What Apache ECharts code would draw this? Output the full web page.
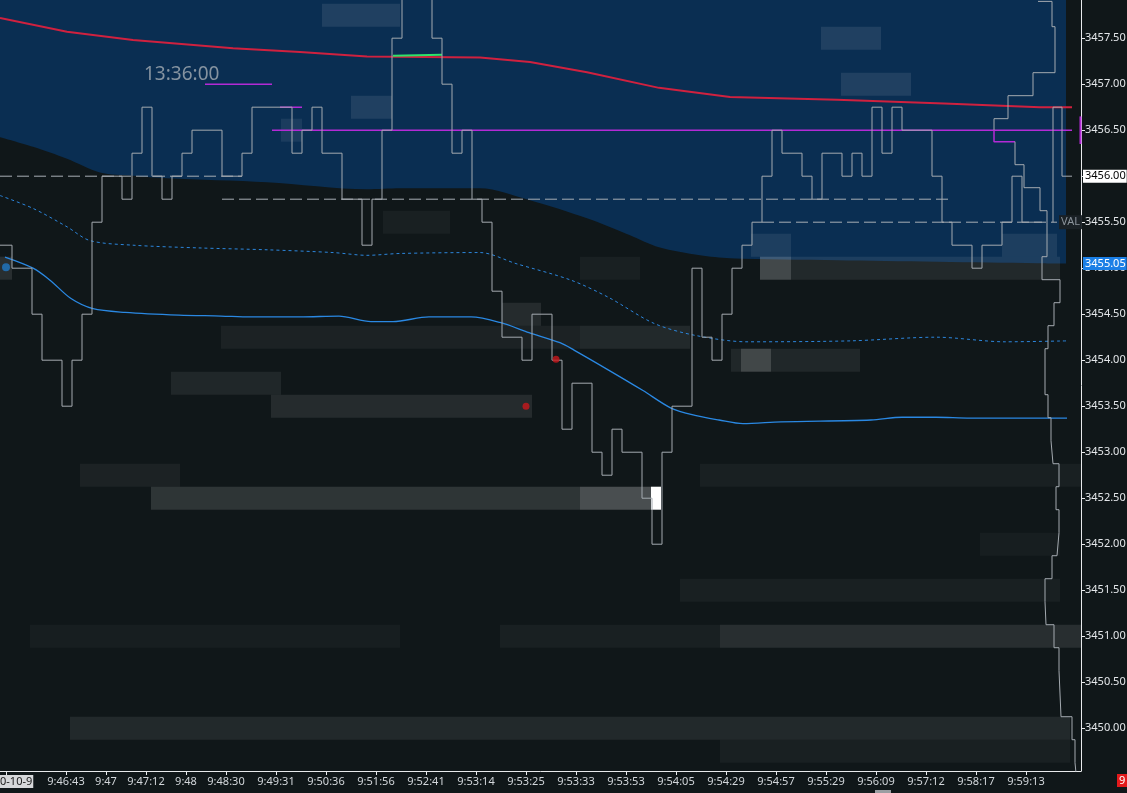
<!DOCTYPE html>
<html>
<head>
<meta charset="utf-8">
<script src="https://cdn.jsdelivr.net/npm/echarts@6/dist/echarts.min.js"></script>
<style>
html,body{margin:0;padding:0;background:#101719;}
#chart{width:1127px;height:793px;}
</style>
</head>
<body>
<div id="chart"></div>
<script>
// ---------- data ----------
const firstBar = -1;
const barPrices = [
  3455.25, 3455.25, 3455.0, 3455.0, 3454.5, 3454.0, 3454.0, 3453.5, 3454.0, 3454.5,
  3455.5, 3456.0, 3456.0, 3455.75, 3456.25, 3456.75, 3456.0, 3455.75, 3456.0, 3456.25,
  3456.5, 3456.5, 3456.5, 3456.0, 3456.0, 3456.25, 3456.75, 3456.75, 3456.75, 3456.75,
  3456.25, 3456.5, 3456.75, 3456.25, 3456.25, 3455.75, 3455.75, 3455.25, 3455.75, 3456.5,
  3457.5, 3458.25, 3458.25, 3458.25, 3457.5, 3457.0, 3456.25, 3456.5, 3455.75, 3455.5,
  3454.75, 3454.25, 3454.25, 3454.0, 3454.5, 3454.5, 3454.0, 3453.25, 3453.75, 3453.75,
  3453.0, 3452.75, 3453.25, 3453.0, 3453.0, 3452.5, 3452.0, 3453.0, 3453.5, 3453.5,
  3455.0, 3454.25, 3454.0, 3454.5, 3455.0, 3455.25, 3455.5, 3456.0, 3456.5, 3456.25,
  3456.25, 3456.0, 3455.75, 3456.25, 3456.25, 3456.0, 3456.25, 3456.0, 3456.75, 3456.25,
  3456.75, 3456.5, 3456.5, 3456.5, 3456.0, 3455.5, 3455.25, 3455.25, 3455.0, 3455.25,
  3455.25, 3455.5, 3456.0, 3455.5, 3455.5
];

const tailUp = [
  [99.2, 3456.5], [99.2, 3456.625], [100.6, 3456.625], [100.6, 3456.875], [103.1, 3456.875],
  [103.1, 3457.125], [105.3, 3457.125], [105.3, 3457.625], [105.0, 3457.625], [105.0, 3457.9],
  [103.6, 3457.9]
];
const tailDown = [
  [101.3, 3456.375], [101.3, 3456.125], [102.2, 3456.125], [102.2, 3455.875], [103.8, 3455.875],
  [103.8, 3455.625], [104.5, 3455.625], [104.5, 3455.125], [104.0, 3455.125], [104.0, 3454.875],
  [105.8, 3454.875], [105.8, 3454.625], [105.2, 3454.625], [105.2, 3454.375], [104.6, 3454.375],
  [104.6, 3454.125], [104.3, 3454.125], [104.3, 3453.625], [104.6, 3453.625], [104.6, 3453.375],
  [104.9, 3453.375], [104.9, 3453.125], [105.1, 3453.125], [105.1, 3452.875], [105.7, 3452.875],
  [105.7, 3452.625], [105.4, 3452.625], [105.4, 3452.375], [105.7, 3452.375], [105.7, 3452.125],
  [105.5, 3452.125], [105.5, 3451.875], [105.0, 3451.875], [105.0, 3451.625], [104.3, 3451.625],
  [104.3, 3451.375], [104.4, 3451.375], [104.4, 3451.125], [105.2, 3451.125], [105.2, 3450.875],
  [105.7, 3450.875], [105.7, 3450.625], [105.9, 3450.625], [105.9, 3450.125], [107.0, 3450.125],
  [107.0, 3449.875], [107.3, 3449.875], [107.3, 3449.625], [107.5, 3449.625], [107.5, 3449.4]
];
const lastPriceTrace = [[105.1, 3455.5], [105.1, 3456.75], [106.0, 3456.75], [106.0, 3456.0], [107.0, 3456.0]];

const valueAreaEdge = [
  [-0.2, 3456.424], [3.1, 3456.320], [6.5, 3456.190], [9.8, 3456.040], [13.1, 3456.005], [16.5, 3455.978],
  [26.5, 3455.935], [36.5, 3455.859], [39.8, 3455.870], [47.8, 3455.870], [52.8, 3455.739],
  [58.5, 3455.543], [62.8, 3455.359], [65.7, 3455.228], [69.8, 3455.141], [72.8, 3455.109],
  [83.5, 3455.087], [103.5, 3455.054], [106.4, 3455.050]
];

const redLine = [
  [-0.2, 3457.72], [6.5, 3457.57], [13.1, 3457.48], [23.1, 3457.39], [29.8, 3457.35],
  [36.5, 3457.30], [47.8, 3457.29], [52.8, 3457.24], [58.5, 3457.13], [65.7, 3456.96],
  [72.8, 3456.86], [83.5, 3456.83], [94.2, 3456.79], [103.8, 3456.75], [107.0, 3456.75]
];
const greenPiece = [[39.1, 3457.31], [44.0, 3457.32]];

const maSolid = [
  [0.3, 3455.12], [3.1, 3455.0], [4.8, 3454.87], [6.9, 3454.67], [9.1, 3454.56], [12.3, 3454.52],
  [17.7, 3454.49], [21.9, 3454.48], [24.8, 3454.47], [29.8, 3454.47], [33.7, 3454.48], [36.9, 3454.42],
  [39.1, 3454.42], [42.7, 3454.47], [46.9, 3454.47], [49.8, 3454.41], [52.7, 3454.30], [55.8, 3454.19],
  [57.2, 3454.11], [60.7, 3453.89], [64.1, 3453.67], [66.9, 3453.48], [69.3, 3453.40], [71.7, 3453.35],
  [74.1, 3453.31], [77.9, 3453.33], [86.9, 3453.35], [90.0, 3453.38], [93.4, 3453.38], [96.8, 3453.37],
  [106.5, 3453.37]
];
const maDashed = [
  [-0.2, 3455.79], [3.1, 3455.65], [6.5, 3455.45], [8.8, 3455.30], [13.1, 3455.25], [19.8, 3455.22],
  [26.5, 3455.20], [33.1, 3455.17], [36.5, 3455.14], [39.8, 3455.16], [47.8, 3455.17], [51.4, 3455.05],
  [56.9, 3454.87], [60.7, 3454.68], [65.2, 3454.40], [69.3, 3454.27], [74.5, 3454.20], [84.8, 3454.21],
  [93.4, 3454.25], [100.3, 3454.20], [106.5, 3454.21]
];

const magentaMain = [[27.0, 3456.5], [107.0, 3456.5]];
const magentaShortA = [[20.3, 3457.0], [27.0, 3457.0]];
const magentaShortB = [[27.8, 3456.75], [30.0, 3456.75]];
const magentaStep = [[99.2, 3456.5], [99.2, 3456.375], [101.3, 3456.375]];
const magentaAxisMark = [[107.85, 3456.35], [107.85, 3456.65]];

const dashedOpen = [[-0.2, 3456.0], [24.0, 3456.0]];
const dashedMid = [[22.0, 3455.75], [95.0, 3455.75]];
const dashedVAL = [[76.0, 3455.5], [105.5, 3455.5]];

const redDots = [[52.4, 3453.50], [55.4, 3454.01]];
const blueDots = [[0.4, 3455.01]];

// [fromIndex, toIndex, price, liquidity]
const heatBands = [
  [14.9, 57.8, 3452.5, 13], [57.8, 64.9, 3452.5, 24], [64.9, 65.9, 3452.5, 100],
  [26.9, 53.0, 3453.5, 9], [16.9, 27.9, 3453.75, 7],
  [21.9, 57.8, 3454.25, 5], [57.8, 68.8, 3454.25, 8],
  [72.9, 85.8, 3454.0, 7], [73.9, 76.9, 3454.0, 15],
  [7.8, 17.8, 3452.75, 5], [69.8, 107.9, 3452.75, 4],
  [67.8, 105.8, 3451.5, 4],
  [2.8, 39.8, 3451.0, 3], [49.8, 71.8, 3451.0, 4], [71.8, 107.9, 3451.0, 10],
  [6.8, 106.8, 3450.0, 8], [71.8, 106.8, 3449.75, 4], [97.8, 105.8, 3452.0, 3],
  [75.8, 105.8, 3455.0, 8], [75.8, 78.9, 3455.0, 15], [57.8, 63.8, 3455.0, 4],
  [50.0, 53.9, 3454.5, 9], [38.1, 44.8, 3455.5, 4],
  [32.0, 39.8, 3457.75, 9], [81.9, 87.9, 3457.5, 9], [83.9, 90.9, 3457.0, 9],
  [34.9, 39.0, 3456.75, 9], [27.9, 30.0, 3456.5, 7],
  [100.0, 105.5, 3455.25, 8], [74.9, 78.9, 3455.25, 8], [-0.2, 1.0, 3455.0, 10]
];

const priceTicks = [3450.0, 3450.5, 3451.0, 3451.5, 3452.0, 3452.5, 3453.0, 3453.5, 3454.0, 3454.5, 3455.0, 3455.5, 3456.0, 3456.5, 3457.0, 3457.5];
const lastPrice = 3456.0;
const vaLow = 3455.05;

const timeTickAt = [0.4, 6.4, 10.4, 14.4, 18.4, 22.4, 27.4, 32.4, 37.4, 42.4, 47.4, 52.4, 57.4, 62.4, 67.4, 72.4, 77.4, 82.4, 87.4, 92.4, 97.4, 102.4];
const timeLabels = ['0-10-9', '9:46:43', '9:47', '9:47:12', '9:48', '9:48:30', '9:49:31', '9:50:36', '9:51:56', '9:52:41', '9:53:14', '9:53:25', '9:53:33', '9:53:53', '9:54:05', '9:54:29', '9:54:57', '9:55:29', '9:56:09', '9:57:12', '9:58:17', '9:59:13'];

const tickHalf = 0.125;

// ---------- chart ----------
const chart = echarts.init(document.getElementById('chart'), null, {renderer: 'canvas'});

const stepData = barPrices.map((p, i) => [firstBar + i, p]);
stepData.push([firstBar + barPrices.length, barPrices[barPrices.length - 1]]);

function renderHeat(params, api) {
  const a = api.coord([api.value(0), api.value(2) + tickHalf]);
  const b = api.coord([api.value(1), api.value(2) - tickHalf]);
  const cs = params.coordSys;
  const shape = echarts.graphic.clipRectByRect(
    {x: a[0], y: a[1], width: b[0] - a[0], height: b[1] - a[1]},
    {x: cs.x, y: cs.y, width: cs.width, height: cs.height}
  );
  if (!shape) return null;
  return {type: 'rect', shape: shape, style: {fill: 'rgba(255,255,255,' + (api.value(3) / 100) + ')'}};
}

function plainLine(data, color, width, extra) {
  return Object.assign({
    type: 'line', data: data, symbol: 'none', silent: true, animation: false,
    lineStyle: {color: color, width: width}
  }, extra || {});
}

const FONT = "'Segoe UI', 'Noto Sans', sans-serif";

const option = {
  backgroundColor: '#101719',
  animation: false,
  textStyle: {fontFamily: FONT},
  grid: {left: 0, top: 0, right: 46, bottom: 22, containLabel: false, outerBoundsMode: 'none'},
  xAxis: {
    type: 'value', min: -0.2, max: 107.9,
    splitLine: {show: false},
    axisLine: {show: true, onZero: false, lineStyle: {color: '#e8eaec', width: 1}},
    axisTick: {show: true, length: 4, customValues: timeTickAt, lineStyle: {color: '#e8eaec'}},
    axisLabel: {
      show: true, margin: 5, fontSize: 11, color: '#d2d6da', fontFamily: FONT,
      hideOverlap: false,
      customValues: timeTickAt.slice(1),
      formatter: function (v) {
        const i = timeTickAt.findIndex(t => Math.abs(t - v) < 1e-6);
        return i > 0 ? timeLabels[i] : '';
      }
    }
  },
  yAxis: {
    type: 'value', position: 'right', min: 3449.535, max: 3457.915, scale: true,
    splitLine: {show: false},
    axisLine: {show: true, onZero: false, lineStyle: {color: '#e8eaec', width: 1}},
    axisTick: {show: true, length: 4, inside: false, customValues: priceTicks, lineStyle: {color: '#e8eaec'}},
    axisLabel: {
      show: true, margin: 2, fontSize: 11, color: '#e4e7ea', fontFamily: FONT,
      hideOverlap: false,
      customValues: priceTicks.concat([vaLow]),
      formatter: function (v) {
        if (Math.abs(v - lastPrice) < 1e-6) return '{cur|' + v.toFixed(2) + '}';
        if (Math.abs(v - vaLow) < 1e-6) return '{va|' + v.toFixed(2) + '}';
        return '{n|' + v.toFixed(2) + '}';
      },
      rich: {
        n: {color: '#e4e7ea', padding: [1, 1, 1, 2], fontSize: 11, fontFamily: FONT},
        cur: {backgroundColor: '#ffffff', color: '#000000', padding: [1, 1, 1, 2], fontSize: 11, fontFamily: FONT},
        va: {backgroundColor: '#1b7fe6', color: '#ffffff', padding: [1, 1, 1, 2], fontSize: 11, fontFamily: FONT}
      }
    }
  },
  graphic: [
    {type: 'text', left: 144, top: 65, z: 50, style: {text: '13:36:00', fill: '#8593a0', font: "19px 'Segoe UI', 'Noto Sans', sans-serif"}},
    {type: 'text', left: 0, top: 775, z: 50, style: {text: timeLabels[0], fill: '#1a1a1a', font: "11px 'Segoe UI', 'Noto Sans', sans-serif", backgroundColor: '#d6d8da', padding: [1, 1, 1, 0]}},
    {type: 'text', left: 1117, top: 774, z: 50, style: {text: '9', fill: '#ffffff', font: "11px 'Segoe UI', 'Noto Sans', sans-serif", backgroundColor: '#e3191b', padding: [1, 3, 1, 2]}},
    {type: 'rect', left: 875, top: 790, z: 50, shape: {width: 16, height: 3}, style: {fill: '#9a9ea2'}}
  ],
  series: [
    {
      type: 'line', data: valueAreaEdge, symbol: 'none', smooth: 0.3, silent: true, z: 1,
      lineStyle: {width: 0, opacity: 0},
      areaStyle: {origin: 'end', color: '#0a2e52', opacity: 1}
    },
    {type: 'custom', renderItem: renderHeat, data: heatBands, z: 2, silent: true,
      encode: {x: [0, 1], y: 2}},
    plainLine(dashedOpen, '#a7afb6', 1, {z: 3, lineStyle: {color: '#a7afb6', width: 1, type: [12, 5]}}),
    plainLine(dashedMid, '#a7afb6', 1, {z: 3, lineStyle: {color: '#a7afb6', width: 1, type: [12, 5]}}),
    plainLine(dashedVAL, '#a7afb6', 1, {
      z: 3, lineStyle: {color: '#a7afb6', width: 1, type: [12, 5]},
      endLabel: {show: true, formatter: 'VAL', color: '#8b939b', fontSize: 11, distance: 2,
        backgroundColor: '#1a2126', padding: [2, 2, 1, 2], fontFamily: FONT}
    }),
    plainLine(redLine, '#d0213f', 2, {z: 4}),
    plainLine(greenPiece, '#2ee36b', 2, {z: 5}),
    plainLine(magentaMain, '#b42ad6', 1.5, {z: 4}),
    plainLine(magentaShortA, '#b42ad6', 1.5, {z: 4}),
    plainLine(magentaShortB, '#b42ad6', 1.5, {z: 4}),
    plainLine(magentaStep, '#b42ad6', 1.5, {z: 4}),
    plainLine(magentaAxisMark, '#b42ad6', 2, {z: 6, clip: false}),
    plainLine(maDashed, '#2c86dc', 1, {z: 4, smooth: 0.3, lineStyle: {color: '#2c86dc', width: 1, type: [3, 3]}}),
    plainLine(maSolid, '#2a88e2', 1.3, {z: 4, smooth: 0.3}),
    plainLine(stepData, '#a4aab0', 1, {z: 5, step: 'end'}),
    plainLine(tailUp, '#a4aab0', 1, {z: 5}),
    plainLine(tailDown, '#a4aab0', 1, {z: 5}),
    plainLine(lastPriceTrace, '#a4aab0', 1, {z: 5}),
    {type: 'scatter', data: redDots, symbolSize: 7, z: 6, silent: true, itemStyle: {color: '#c8181c'}},
    {type: 'scatter', data: blueDots, symbolSize: 8, z: 6, silent: true, itemStyle: {color: '#1f78c6'}}
  ]
};

chart.setOption(option);
</script>
</body>
</html>
